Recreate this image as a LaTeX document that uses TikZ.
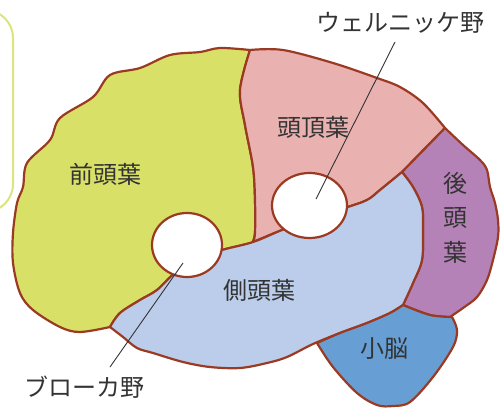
\documentclass[tikz,border=0pt]{standalone}
\usepackage{fontspec}
\newfontfamily\jp{Noto Sans CJK JP}
\usetikzlibrary{shapes.geometric}
\definecolor{frontalc}{HTML}{D9E067}
\definecolor{parietalc}{HTML}{E9B1B0}
\definecolor{occipitalc}{HTML}{B482B7}
\definecolor{temporalc}{HTML}{BBCDEA}
\definecolor{cerebc}{HTML}{679FD5}
\definecolor{edgec}{HTML}{9B3A22}
\definecolor{framec}{HTML}{DDE47E}
\definecolor{inkc}{HTML}{333333}
\tikzset{
  lobe/.style={draw=edgec, line width=2.2pt, line join=round},
  area/.style={ellipse, draw=edgec, line width=2.2pt, fill=white, inner sep=0pt},
  lbl/.style={text=inkc, font=\jp\fontsize{24}{28}\selectfont, inner sep=0pt},
  leader/.style={draw=inkc, line width=0.9pt},
}
\begin{document}
\begin{tikzpicture}[x=1pt, y=-1pt]
\useasboundingbox (0,0) rectangle (500,409);

% side panel frame
\draw[framec, line width=2pt, rounded corners=28pt] (-60,10) rectangle (13,212);

% frontal lobe
\path[lobe, fill=frontalc]
  plot[smooth, tension=0.55] coordinates {(250,50) (220,48) (200,52) (170,55) (140,68) (110,75) (93,97) (60,118) (50,140) (27,163) (23,187) (17,203) (13,233) (13,263) (20,293) (33,310) (60,327) (80,332) (110,327)}
  -- plot[smooth, tension=0.55] coordinates {(110,327) (120,313) (140,300) (157,290) (175,273) (200,258) (222,250) (252,243)}
  -- plot[smooth, tension=0.55] coordinates {(252,243) (255,233) (255,200) (253,167) (245,125) (240,90) (250,50)}
  -- cycle;

% parietal lobe
\path[lobe, fill=parietalc]
  plot[smooth, tension=0.55] coordinates {(250,50) (283,50) (333,63) (377,78) (400,87) (423,103) (445,128)}
  -- (402,172)
  -- plot[smooth, tension=0.55] coordinates {(402,172) (380,190) (367,200) (345,208) (310,220) (282,230) (253,242)}
  -- plot[smooth, tension=0.55] coordinates {(253,242) (255,233) (255,200) (253,167) (245,125) (240,90) (250,50)}
  -- cycle;

% occipital lobe
\path[lobe, fill=occipitalc]
  plot[smooth, tension=0.55] coordinates {(445,128) (463,145) (480,160) (487,170) (490,187) (495,203) (498,220) (498,237) (493,260) (487,280) (477,297) (463,308) (450,317)}
  -- plot[smooth, tension=0.55] coordinates {(450,317) (430,315) (403,305)}
  -- plot[smooth, tension=0.55] coordinates {(403,305) (413,283) (422,260) (423,230) (422,207) (413,187) (402,172)}
  -- cycle;

% temporal lobe
\path[lobe, fill=temporalc]
  plot[smooth, tension=0.55] coordinates {(110,327) (123,337) (137,348) (153,353) (183,362) (210,367) (240,368) (267,363) (287,357) (313,344) (340,333) (367,323) (390,313) (403,305)}
  -- plot[smooth, tension=0.55] coordinates {(403,305) (413,283) (422,260) (423,230) (422,207) (413,187) (402,172)}
  -- plot[smooth, tension=0.55] coordinates {(402,172) (380,190) (367,200) (345,208) (310,220) (282,230) (253,242) (222,250) (200,258) (175,273) (157,290) (140,300) (120,313) (110,327)}
  -- cycle;

% cerebellum
\path[lobe, fill=cerebc]
  plot[smooth, tension=0.55] coordinates {(317,343) (333,367) (357,393) (377,405) (393,406) (410,402) (433,377) (453,347) (457,330) (452,317)}
  -- plot[smooth, tension=0.55] coordinates {(452,317) (430,315) (403,305)}
  -- plot[smooth, tension=0.55] coordinates {(403,305) (390,313) (367,323) (340,333) (317,343)}
  -- cycle;

% speech areas
\node[area, minimum width=70pt, minimum height=64pt] (broca) at (187,245) {};
\node[area, minimum width=75pt, minimum height=65pt] (wernicke) at (309.5,205.5) {};

% lobe names
\node[lbl] (frontal) at (105,174) {前頭葉};
\node[lbl] (parietal) at (313.5,127.5) {頭頂葉};
\node[lbl] (temporal) at (259,290) {側頭葉};
\node[lbl] (cerebellum) at (384,349) {小脳};
\node[lbl, align=center] (occipital) at (455.5,217.5) {後\\[6.5pt]頭\\[6.5pt]葉};

% area labels and leaders
\node[lbl] (wlabel) at (400,22.5) {ウェルニッケ野};
\node[lbl] (blabel) at (84,387) {ブローカ野};
\coordinate (wtop) at (395,42);
\coordinate (wend) at (316,199);
\coordinate (btop) at (183,263);
\coordinate (bend) at (110,367);
\draw[leader] (wtop) -- (wend);
\draw[leader] (btop) -- (bend);
\end{tikzpicture}
\end{document}
